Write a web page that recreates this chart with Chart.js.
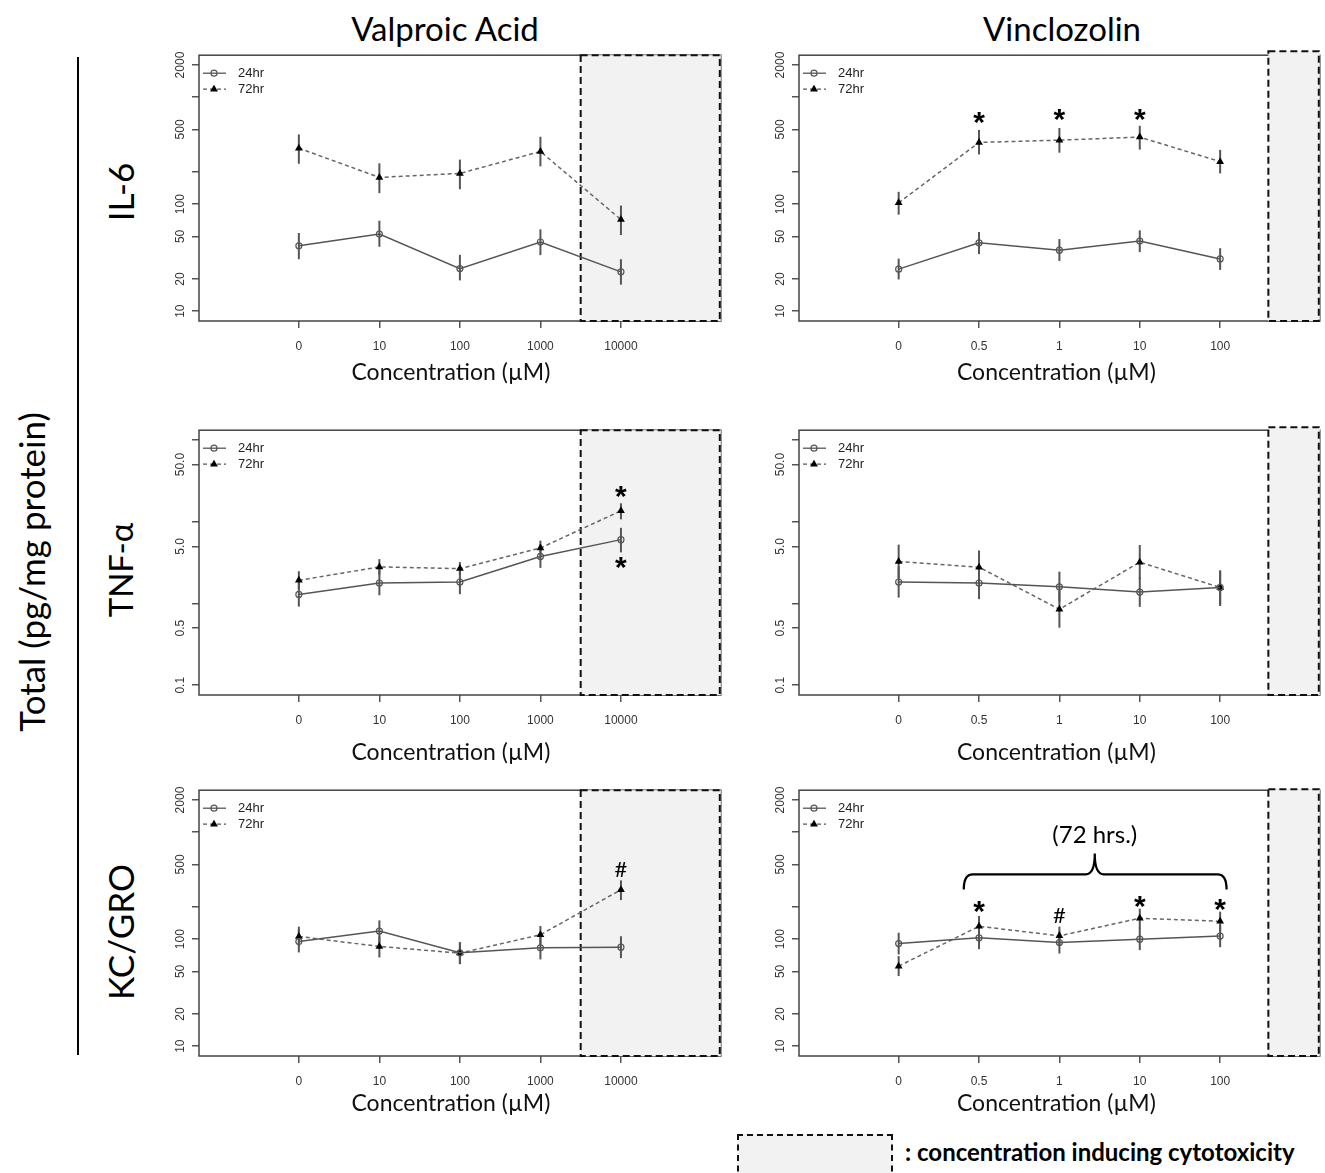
<!DOCTYPE html>
<html>
<head>
<meta charset="utf-8">
<script src="https://cdn.jsdelivr.net/npm/chart.js@4.4.1/dist/chart.umd.min.js"></script>
<style>
body { margin: 0; background: #fff; }
#page { position: relative; width: 1325px; height: 1173px; overflow: hidden; background: #fff; font-family: Lato, "Open Sans", sans-serif; }
.lbl { position: absolute; white-space: nowrap; line-height: 1; transform: translate(-50%, -50%); color: #000; }
.rot { transform: translate(-50%, -50%) rotate(-90deg); }
canvas { position: absolute; }
</style>
</head>
<body>
<div id="page">
  <div class="lbl" style="left:445px;top:28px;font-size:33px;">Valproic Acid</div>
  <div class="lbl" style="left:1062px;top:28px;font-size:33px;">Vinclozolin</div>
  <div class="lbl rot" style="left:31px;top:572px;font-size:35px;">Total (pg/mg protein)</div>
  <div class="lbl rot" style="left:120px;top:192px;font-size:35px;">IL-6</div>
  <div class="lbl rot" style="left:120px;top:570px;font-size:33px;">TNF-α</div>
  <div class="lbl rot" style="left:120px;top:932px;font-size:35px;">KC/GRO</div>
  <div style="position:absolute;left:77px;top:57px;width:2px;height:998px;background:#000;"></div>
  <div style="position:absolute;left:737px;top:1134px;width:152px;height:44px;background:#f2f2f2;border:2px dashed #111;"></div>
  <div class="lbl" style="left:905px;top:1152px;transform:translate(0,-50%);font-size:24px;font-weight:bold;">: concentration inducing cytotoxicity</div>
</div>
<script>
// doses (x categories)
const vpaDoses = ['0', '10', '100', '1000', '10000'];
const vinDoses = ['0', '0.5', '1', '10', '100'];

// y tick values / labels
const cytoTicks = [10, 20, 50, 100, 200, 500, 1000, 2000];
const cytoTickLabels = ['10', '20', '50', '100', '', '500', '', '2000'];
const tnfTicks = [0.1, 0.5, 1, 5, 10, 50, 100];
const tnfTickLabels = ['0.1', '0.5', '', '5.0', '', '50.0', ''];

// IL-6, valproic acid
const il6Vpa24 = [40.8, 52.6, 25.0, 44.3, 23.3];
const il6Vpa24Lo = [30.6, 40.0, 19.4, 33.4, 17.7];
const il6Vpa24Hi = [53.8, 70.2, 33.6, 58.2, 30.6];
const il6Vpa72 = [334, 178, 194, 311, 71.8];
const il6Vpa72Lo = [239, 127, 138, 226, 51.5];
const il6Vpa72Hi = [449, 241, 261, 427, 97];

// IL-6, vinclozolin
const il6Vin24 = [24.7, 43.5, 37.2, 45.2, 30.8];
const il6Vin24Lo = [19.8, 34.1, 29.5, 35.6, 24.3];
const il6Vin24Hi = [31.0, 55.0, 47.2, 56.9, 38.8];
const il6Vin72 = [103, 378, 397, 424, 250];
const il6Vin72Lo = [79.8, 292, 303, 324, 194];
const il6Vin72Hi = [130.5, 495, 516, 541, 322];

// TNF-alpha, valproic acid
const tnfVpa24 = [1.29, 1.78, 1.83, 3.76, 6.04];
const tnfVpa24Lo = [0.916, 1.26, 1.30, 2.73, 4.22];
const tnfVpa24Hi = [1.83, 2.60, 2.60, 5.30, 8.42];
const tnfVpa72 = [1.92, 2.80, 2.67, 4.77, 13.6];
const tnfVpa72Lo = [1.49, 2.25, 2.23, 3.87, 10.7];
const tnfVpa72Hi = [2.48, 3.49, 3.21, 5.87, 16.8];

// TNF-alpha, vinclozolin
const tnfVin24 = [1.83, 1.78, 1.60, 1.38, 1.57];
const tnfVin24Lo = [1.18, 1.13, 1.05, 0.908, 0.935];
const tnfVin24Hi = [2.83, 2.81, 2.45, 2.09, 2.53];
const tnfVin72 = [3.26, 2.78, 0.85, 3.20, 1.57];
const tnfVin72Lo = [2.03, 1.73, 0.505, 1.98, 0.935];
const tnfVin72Hi = [5.25, 4.46, 1.43, 5.19, 2.53];

// KC/GRO, valproic acid
const kcVpa24 = [95, 119, 74.6, 83, 84.2];
const kcVpa24Lo = [75.2, 91.8, 58.5, 64.7, 66.5];
const kcVpa24Hi = [123, 150, 93.8, 106.6, 106.6];
const kcVpa72 = [106, 85.5, 74.1, 110, 290];
const kcVpa72Lo = [85.5, 67.5, 58.5, 88.5, 232];
const kcVpa72Hi = [131, 106, 93, 133, 355];

// KC/GRO, vinclozolin
const kcVin24 = [91.1, 103, 93.1, 100, 107];
const kcVin24Lo = [72, 80.7, 73.5, 79, 84.2];
const kcVin24Hi = [115, 131, 118, 128.5, 135];
const kcVin72 = [56, 132, 107.5, 157, 147];
const kcVin72Lo = [45.2, 106, 87.3, 126, 118];
const kcVin72Hi = [69.5, 165, 131, 193, 181];

// significance marks: [dose index, symbol, value]
const il6VinMarks = [[2, '*', 637], [3, '*', 680], [4, '*', 680]];
const tnfVpaMarks = [[5, '*', 23], [5, '*', 3.1]];
const kcVpaMarks = [[5, '#', 449]];
const kcVinMarks = [[2, '*', 200], [3, '#', 166], [4, '*', 222], [5, '*', 210]];
const kcVinBraceX = [1.81, 3.44, 5.08];
const kcVinBraceY = [292, 404, 633, 940];

// start of cytotoxic range on the dose axis
const vpaToxFrom = 4.5;
const vinToxFrom = 5.6;

// layout
const colLeft = [199, 799], colRight = [723, 1322];
const rowTop = [55, 430, 790], rowBottom = [321, 695, 1056];
const titleGap = [52, 58, 48];
const titleShift = [-9, -3];
const YW = 60, XH = 75, PT = 10, PR = 3;

const tickFont = '12px "Liberation Sans", Arial, sans-serif';

function drawMarker(ctx, style, x, y) {
  ctx.beginPath();
  if (style === 'circle') {
    ctx.arc(x, y, 3, 0, Math.PI * 2);
    ctx.strokeStyle = '#555'; ctx.lineWidth = 1.2; ctx.stroke();
  } else {
    const r = 4.5;
    ctx.moveTo(x, y - r);
    ctx.lineTo(x + r * 0.866, y + r * 0.5);
    ctx.lineTo(x - r * 0.866, y + r * 0.5);
    ctx.closePath();
    ctx.fillStyle = '#000'; ctx.fill();
  }
}

function centeredText(ctx, txt, x, y) {
  const m = ctx.measureText(txt);
  ctx.fillText(txt, x, y + (m.actualBoundingBoxAscent - m.actualBoundingBoxDescent) / 2);
}

function makePanel(p) {
  const left = colLeft[p.col], right = colRight[p.col];
  const top = rowTop[p.row], bottom = rowBottom[p.row];
  const cv = document.createElement('canvas');
  const w = YW + (right - left) + PR, h = PT + (bottom - top) + XH;
  cv.width = w; cv.height = h;
  cv.style.left = (left - YW) + 'px';
  cv.style.top = (top - PT) + 'px';
  cv.style.width = w + 'px'; cv.style.height = h + 'px';
  document.getElementById('page').appendChild(cv);

  const plugin = {
    id: 'panel' + p.row + p.col,
    beforeDatasetsDraw(chart) {
      const ctx = chart.ctx, a = chart.chartArea;
      const xs = chart.scales.x, ys = chart.scales.y;
      ctx.save();
      ctx.strokeStyle = '#444'; ctx.lineWidth = 1.5;
      ctx.strokeRect(a.left, a.top, a.right - a.left, a.bottom - a.top);
      const rx = xs.getPixelForValue(p.toxFrom);
      const rt = a.top - p.toxOver;
      ctx.fillStyle = '#f2f2f2';
      ctx.fillRect(rx, rt, a.right - rx, a.bottom - rt);
      ctx.setLineDash([7, 4]);
      ctx.strokeStyle = '#111'; ctx.lineWidth = 2;
      ctx.strokeRect(rx, rt, a.right - rx - 1, a.bottom - rt);
      ctx.setLineDash([]);
      chart.data.datasets.forEach((ds, di) => {
        const meta = chart.getDatasetMeta(di);
        ctx.strokeStyle = '#555'; ctx.lineWidth = 2;
        meta.data.forEach((pt, i) => {
          ctx.beginPath();
          ctx.moveTo(pt.x, ys.getPixelForValue(ds.errLo[i]));
          ctx.lineTo(pt.x, ys.getPixelForValue(ds.errHi[i]));
          ctx.stroke();
        });
      });
      ctx.restore();
    },
    afterDatasetsDraw(chart) {
      const ctx = chart.ctx, a = chart.chartArea;
      const xs = chart.scales.x, ys = chart.scales.y;
      ctx.save();
      // y tick labels, rotated like R's default
      ctx.font = tickFont; ctx.fillStyle = '#333';
      ctx.textAlign = 'center'; ctx.textBaseline = 'middle';
      p.ticks.forEach((v, i) => {
        if (!p.tickLabels[i]) return;
        ctx.save();
        ctx.translate(a.left - 18, ys.getPixelForValue(v));
        ctx.rotate(-Math.PI / 2);
        ctx.fillText(p.tickLabels[i], 0, 0);
        ctx.restore();
      });
      // x title
      ctx.font = '23px Lato, "Open Sans", sans-serif'; ctx.fillStyle = '#111';
      ctx.fillText('Concentration (\u00b5M)', (a.left + a.right) / 2 + titleShift[p.col], a.bottom + titleGap[p.row]);
      // legend
      chart.data.datasets.forEach((ds, di) => {
        const ly = a.top + 18 + 16 * di;
        ctx.beginPath();
        ctx.setLineDash(ds.borderDash || []);
        ctx.strokeStyle = '#555'; ctx.lineWidth = 1.3;
        ctx.moveTo(a.left + 4, ly); ctx.lineTo(a.left + 27, ly); ctx.stroke();
        ctx.setLineDash([]);
        drawMarker(ctx, ds.pointStyle, a.left + 15, ly);
        ctx.font = '13px "Liberation Sans Narrow", "Liberation Sans", sans-serif';
        ctx.fillStyle = '#222'; ctx.textAlign = 'left';
        ctx.fillText(ds.label, a.left + 39, ly);
      });
      // significance marks
      ctx.fillStyle = '#000'; ctx.textAlign = 'center'; ctx.textBaseline = 'alphabetic';
      (p.marks || []).forEach(m => {
        ctx.font = m[1] === '*' ? 'bold 30px "Liberation Sans", sans-serif' : '22px Lato, sans-serif';
        centeredText(ctx, m[1], xs.getPixelForValue(m[0]), ys.getPixelForValue(m[2]));
      });
      // curly brace over the 72 hr doses
      if (p.braceX) {
        const x1 = xs.getPixelForValue(p.braceX[0]), xm = xs.getPixelForValue(p.braceX[1]), x2 = xs.getPixelForValue(p.braceX[2]);
        const yEnd = ys.getPixelForValue(p.braceY[0]), yBar = ys.getPixelForValue(p.braceY[1]), yTip = ys.getPixelForValue(p.braceY[2]);
        const r = 9;
        ctx.beginPath();
        ctx.strokeStyle = '#000'; ctx.lineWidth = 2.2;
        ctx.moveTo(x1, yEnd);
        ctx.quadraticCurveTo(x1, yBar, x1 + r, yBar);
        ctx.lineTo(xm - r, yBar);
        ctx.quadraticCurveTo(xm, yBar, xm, yTip);
        ctx.quadraticCurveTo(xm, yBar, xm + r, yBar);
        ctx.lineTo(x2 - r, yBar);
        ctx.quadraticCurveTo(x2, yBar, x2, yEnd);
        ctx.stroke();
        ctx.font = '24px Lato, sans-serif';
        centeredText(ctx, '(72 hrs.)', xm, ys.getPixelForValue(p.braceY[3]));
      }
      ctx.restore();
    }
  };

  const pts = arr => arr.map((v, i) => ({ x: i + 1, y: v }));
  const axisGrid = { display: true, drawOnChartArea: false, drawTicks: true, tickLength: 7, color: '#555', lineWidth: 1.5 };

  new Chart(cv, {
    type: 'line',
    data: {
      datasets: [
        { label: '24hr', data: pts(p.d24), errLo: p.lo24, errHi: p.hi24,
          borderColor: '#555', borderWidth: 1.5, pointStyle: 'circle', pointRadius: 3,
          pointBorderColor: '#555', pointBackgroundColor: 'rgba(255,255,255,0)', pointBorderWidth: 1.2 },
        { label: '72hr', data: pts(p.d72), errLo: p.lo72, errHi: p.hi72,
          borderColor: '#666', borderWidth: 1.5, borderDash: [4, 3], pointStyle: 'triangle', pointRadius: 4.5,
          pointBorderColor: '#000', pointBackgroundColor: '#000', pointBorderWidth: 0 }
      ]
    },
    options: {
      responsive: false, animation: false, devicePixelRatio: 1,
      layout: { padding: { top: PT, right: PR, left: 0, bottom: 0 } },
      plugins: { legend: { display: false }, tooltip: { enabled: false } },
      scales: {
        x: {
          type: 'linear', min: -0.24, max: 6.24,
          afterBuildTicks: s => { s.ticks = [1, 2, 3, 4, 5].map(v => ({ value: v })); },
          afterFit: s => { s.height = XH; },
          ticks: { callback: v => p.doses[v - 1], font: { family: '"Liberation Sans", Arial, sans-serif', size: 12 },
                   color: '#333', padding: 11, maxRotation: 0, autoSkip: false },
          grid: axisGrid, border: { display: false }
        },
        y: {
          type: 'logarithmic', min: p.ymin, max: p.ymax,
          afterBuildTicks: s => { s.ticks = p.ticks.map(v => ({ value: v })); },
          afterFit: s => { s.width = YW; },
          ticks: { callback: () => '', autoSkip: false },
          grid: axisGrid, border: { display: false }
        }
      }
    },
    plugins: [plugin]
  });
}

const cytoMin = 8.09, cytoMax = 2472, tnfMin = 0.0759, tnfMax = 131.8;

makePanel({ row: 0, col: 0, doses: vpaDoses, ticks: cytoTicks, tickLabels: cytoTickLabels, ymin: cytoMin, ymax: cytoMax,
  d24: il6Vpa24, lo24: il6Vpa24Lo, hi24: il6Vpa24Hi, d72: il6Vpa72, lo72: il6Vpa72Lo, hi72: il6Vpa72Hi,
  toxFrom: vpaToxFrom, toxOver: 0 });
makePanel({ row: 0, col: 1, doses: vinDoses, ticks: cytoTicks, tickLabels: cytoTickLabels, ymin: cytoMin, ymax: cytoMax,
  d24: il6Vin24, lo24: il6Vin24Lo, hi24: il6Vin24Hi, d72: il6Vin72, lo72: il6Vin72Lo, hi72: il6Vin72Hi,
  toxFrom: vinToxFrom, toxOver: 4, marks: il6VinMarks });
makePanel({ row: 1, col: 0, doses: vpaDoses, ticks: tnfTicks, tickLabels: tnfTickLabels, ymin: tnfMin, ymax: tnfMax,
  d24: tnfVpa24, lo24: tnfVpa24Lo, hi24: tnfVpa24Hi, d72: tnfVpa72, lo72: tnfVpa72Lo, hi72: tnfVpa72Hi,
  toxFrom: vpaToxFrom, toxOver: 0, marks: tnfVpaMarks });
makePanel({ row: 1, col: 1, doses: vinDoses, ticks: tnfTicks, tickLabels: tnfTickLabels, ymin: tnfMin, ymax: tnfMax,
  d24: tnfVin24, lo24: tnfVin24Lo, hi24: tnfVin24Hi, d72: tnfVin72, lo72: tnfVin72Lo, hi72: tnfVin72Hi,
  toxFrom: vinToxFrom, toxOver: 3 });
makePanel({ row: 2, col: 0, doses: vpaDoses, ticks: cytoTicks, tickLabels: cytoTickLabels, ymin: cytoMin, ymax: cytoMax,
  d24: kcVpa24, lo24: kcVpa24Lo, hi24: kcVpa24Hi, d72: kcVpa72, lo72: kcVpa72Lo, hi72: kcVpa72Hi,
  toxFrom: vpaToxFrom, toxOver: 0, marks: kcVpaMarks });
makePanel({ row: 2, col: 1, doses: vinDoses, ticks: cytoTicks, tickLabels: cytoTickLabels, ymin: cytoMin, ymax: cytoMax,
  d24: kcVin24, lo24: kcVin24Lo, hi24: kcVin24Hi, d72: kcVin72, lo72: kcVin72Lo, hi72: kcVin72Hi,
  toxFrom: vinToxFrom, toxOver: 1, marks: kcVinMarks, braceX: kcVinBraceX, braceY: kcVinBraceY });
</script>
</body>
</html>
